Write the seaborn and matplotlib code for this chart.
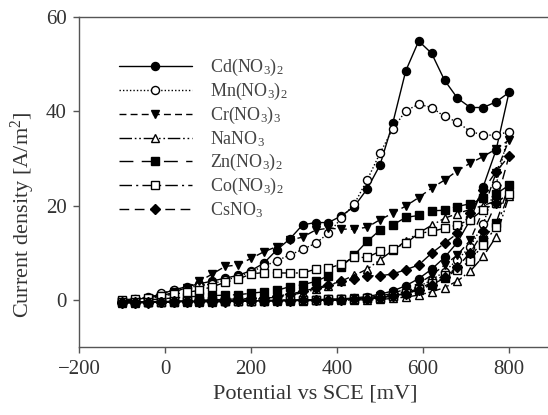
import numpy as np
import pandas as pd
import seaborn as sns
import matplotlib.pyplot as plt

# potential steps (mV): forward scan then reverse scan
pot_fwd = [-100, -70, -40, -10, 20, 50, 80, 110, 140, 170, 200, 230, 260, 290, 320, 350,
           380, 410, 440, 470, 500, 530, 560, 590, 620, 650, 680, 710, 740, 770, 800]
pot_rev = [770, 740, 710, 680, 650, 620, 590, 560, 530, 500, 470, 440, 410, 380, 350,
           320, 290, 260, 230, 200, 170, 140, 110, 80, 50, 20, -10, -40, -70, -100]

# current density (A/m2)
cd_fwd = [-0.3, 0.0, 0.5, 1.2, 2.1, 2.8, 3.4, 4.0, 4.6, 5.2, 6.2, 7.8, 10.6, 12.9, 15.9, 16.4,
          16.4, 17.8, 19.8, 23.5, 28.6, 37.6, 48.6, 54.9, 52.3, 46.6, 42.8, 40.8, 40.8, 42.0, 44.0]
cd_rev = [31.8, 24.0, 17.0, 12.2, 9.0, 6.5, 4.5, 3.0, 1.9, 1.2, 0.7, 0.4, 0.2, 0.1, 0.0,
          -0.1, -0.1, -0.2, -0.2, -0.2, -0.3, -0.3, -0.3, -0.4, -0.4, -0.4, -0.5, -0.5, -0.6, -0.6]
mn_fwd = [-0.3, 0.2, 0.6, 1.4, 2.0, 2.6, 3.0, 3.4, 4.2, 4.9, 6.0, 7.1, 8.3, 9.5, 10.7, 12.0,
          14.1, 17.3, 20.3, 25.4, 31.1, 36.3, 40.1, 41.5, 40.8, 38.9, 37.7, 35.7, 35.0, 34.9, 35.7]
mn_rev = [24.4, 16.0, 11.3, 8.5, 6.0, 4.2, 2.8, 1.8, 1.1, 0.6, 0.3, 0.2, 0.1, 0.0, 0.0,
          -0.1, -0.1, -0.1, -0.2, -0.2, -0.2, -0.3, -0.3, -0.3, -0.3, -0.4, -0.4, -0.4, -0.5, -0.5]
cr_fwd = [-0.5, -0.3, 0.2, 0.8, 1.6, 2.6, 3.9, 5.5, 7.1, 7.4, 8.8, 10.2, 11.3, 12.7, 13.3, 14.8,
          15.2, 15.0, 15.0, 15.4, 17.0, 18.4, 19.9, 21.7, 23.7, 25.4, 27.4, 29.0, 30.4, 32.0, 33.9]
cr_rev = [27.0, 19.0, 12.7, 9.5, 7.4, 5.2, 3.5, 2.3, 1.4, 0.8, 0.5, 0.3, 0.2, 0.1, 0.0,
          0.0, -0.1, -0.1, -0.2, -0.2, -0.2, -0.3, -0.3, -0.3, -0.4, -0.4, -0.4, -0.5, -0.5, -0.6]
na_fwd = [-0.5, -0.4, -0.4, -0.3, -0.3, -0.2, -0.2, -0.1, -0.1, 0.0, 0.0, 0.3, 0.6, 1.0, 1.5, 2.2,
          3.0, 4.0, 5.2, 6.5, 8.5, 10.5, 12.5, 14.2, 15.8, 17.3, 18.3, 19.2, 20.0, 21.0, 22.0]
na_rev = [13.4, 9.2, 6.1, 4.0, 2.6, 1.7, 1.0, 0.6, 0.3, 0.1, 0.0, 0.0, -0.1, -0.1, -0.1,
          -0.2, -0.2, -0.2, -0.3, -0.3, -0.3, -0.3, -0.4, -0.4, -0.4, -0.5, -0.5, -0.5, -0.6, -0.6]
zn_fwd = [-0.3, -0.2, 0.0, 0.2, 0.4, 0.6, 0.8, 0.9, 1.0, 1.1, 1.4, 1.7, 2.0, 2.8, 3.2, 3.9,
          5.1, 7.0, 9.5, 12.4, 14.8, 15.9, 17.5, 17.9, 18.9, 19.0, 19.8, 20.4, 21.5, 22.5, 24.3]
zn_rev = [16.3, 12.8, 9.0, 6.5, 4.6, 3.2, 2.1, 1.4, 0.9, 0.5, 0.3, 0.2, 0.1, 0.0, 0.0,
          -0.1, -0.1, -0.1, -0.2, -0.2, -0.2, -0.3, -0.3, -0.3, -0.3, -0.4, -0.4, -0.4, -0.5, -0.5]
co_fwd = [0.0, 0.2, 0.5, 0.8, 1.2, 1.6, 2.0, 2.8, 3.7, 4.4, 5.5, 5.8, 5.7, 5.7, 5.7, 6.5,
          6.7, 7.6, 9.0, 9.0, 10.3, 10.8, 12.0, 14.1, 14.5, 15.2, 15.9, 17.0, 19.1, 20.6, 22.5]
co_rev = [15.5, 11.7, 8.3, 6.4, 5.3, 3.6, 2.4, 1.5, 0.9, 0.5, 0.3, 0.2, 0.1, 0.1, 0.0,
          0.0, -0.1, -0.1, -0.1, -0.2, -0.2, -0.2, -0.3, -0.3, -0.3, -0.3, -0.4, -0.4, -0.4, -0.5]
cs_fwd = [-0.5, -0.5, -0.4, -0.4, -0.3, -0.2, -0.1, 0.0, 0.1, 0.2, 0.3, 0.5, 0.8, 1.2, 1.8, 2.5,
          3.2, 3.9, 4.4, 5.1, 5.1, 5.5, 6.4, 7.4, 9.9, 12.0, 14.1, 18.4, 23.3, 27.2, 30.5]
cs_rev = [20.5, 14.5, 10.0, 7.0, 4.8, 3.2, 2.1, 1.3, 0.8, 0.4, 0.2, 0.1, 0.0, 0.0, -0.1,
          -0.1, -0.2, -0.2, -0.3, -0.3, -0.3, -0.4, -0.4, -0.4, -0.5, -0.5, -0.5, -0.6, -0.6, -0.7]

labels = ["Cd(NO$_3$)$_2$", "Mn(NO$_3$)$_2$", "Cr(NO$_3$)$_3$", "NaNO$_3$",
          "Zn(NO$_3$)$_2$", "Co(NO$_3$)$_2$", "CsNO$_3$"]
series = [(cd_fwd, cd_rev), (mn_fwd, mn_rev), (cr_fwd, cr_rev), (na_fwd, na_rev),
          (zn_fwd, zn_rev), (co_fwd, co_rev), (cs_fwd, cs_rev)]

styles = [
    dict(marker="o", mfc="k", ls="-"),
    dict(marker="o", mfc="white", ls=(0, (1, 1.5))),
    dict(marker="v", mfc="k", ls=(0, (5, 3))),
    dict(marker="^", mfc="white", ls=(0, (9, 2, 1.2, 2, 1.2, 2))),
    dict(marker="s", mfc="k", ls=(0, (10, 6))),
    dict(marker="s", mfc="white", ls=(0, (9, 3, 1.5, 3))),
    dict(marker="D", mfc="k", ls=(0, (7, 4))),
]

sns.set_style("ticks")
plt.rcParams["font.family"] = ["Liberation Serif", "DejaVu Serif"]
plt.rcParams["mathtext.default"] = "regular"

fig = plt.figure(figsize=(5.48, 4.15), dpi=100)
ax = fig.add_axes([79 / 548, 68 / 415, 473 / 548, 330 / 415])

for lab, (f, r), st in zip(labels, series, styles):
    df = pd.DataFrame({"pot": pot_fwd + pot_rev, "cur": f + r})
    ms = 4.8 if st["marker"] == "D" else 5.8
    sns.lineplot(data=df, x="pot", y="cur", sort=False, estimator=None, ax=ax,
                 color="k", lw=1, linestyle=st["ls"], marker=st["marker"],
                 markersize=ms, markerfacecolor=st["mfc"], markeredgecolor="k",
                 markeredgewidth=1, label=lab)

ax.set_xlim(-200, 900)
ax.set_ylim(-10, 60)
ax.set_xticks([-200, 0, 200, 400, 600, 800])
ax.set_yticks([0, 20, 40, 60])
for s in ax.spines.values():
    s.set_color("#555555")
    s.set_linewidth(1)
ax.tick_params(direction="out", length=4, width=1, color="#555555", pad=5,
               labelsize=15, labelcolor="#333333")
ax.set_xlabel("Potential vs SCE [mV]", fontsize=16, color="#333333", labelpad=4)
ax.set_ylabel("Current density [A/m$^2$]", fontsize=16, color="#333333")
ax.yaxis.set_label_coords(-0.088, 0.40)

leg = ax.legend(loc="upper left", bbox_to_anchor=(0.07, 0.90), frameon=False,
                fontsize=13, handlelength=4.0, labelspacing=0.16, handletextpad=1.0,
                borderaxespad=0)
for t in leg.get_texts():
    t.set_color("#444444")

fig.savefig("out.png", dpi=100)
